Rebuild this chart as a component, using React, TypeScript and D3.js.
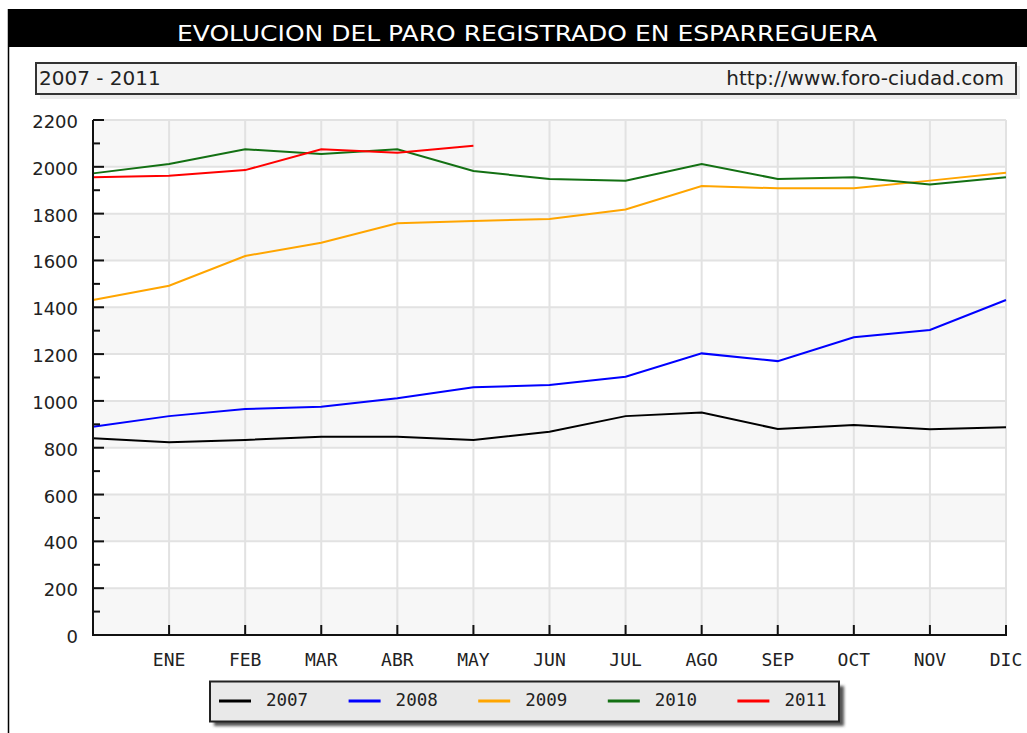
import React, { useEffect, useRef } from 'react';
import * as d3 from 'd3';

// datos (13 puntos por serie, el primero sin etiqueta)
const months = ['ENE', 'FEB', 'MAR', 'ABR', 'MAY', 'JUN', 'JUL', 'AGO', 'SEP', 'OCT', 'NOV', 'DIC'];
const years = ['2007', '2008', '2009', '2010', '2011'];
const colors = ['#000000', '#0000ff', '#ffa500', '#137013', '#ff0000'];

const paro2007 = [840, 823, 833, 847, 847, 833, 868, 935, 950, 880, 897, 879, 887];
const paro2008 = [890, 935, 965, 975, 1011, 1058, 1068, 1103, 1203, 1170, 1272, 1303, 1431];
const paro2009 = [1431, 1492, 1619, 1676, 1759, 1769, 1777, 1818, 1918, 1908, 1908, 1941, 1975];
const paro2010 = [1972, 2012, 2075, 2055, 2075, 1982, 1948, 1941, 2012, 1948, 1955, 1925, 1955];
const paro2011 = [1955, 1962, 1986, 2075, 2060, 2090];

const yTicks = [0, 200, 400, 600, 800, 1000, 1200, 1400, 1600, 1800, 2000, 2200];

const title = 'EVOLUCION DEL PARO REGISTRADO EN ESPARREGUERA';
const subtitleLeft = '2007 - 2011';
const subtitleRight = 'http://www.foro-ciudad.com';

const App = () => {
  const ref = useRef<SVGSVGElement>(null);

  const graph = () => {
    const svg = d3.select(ref.current);
    svg.selectAll('*').remove();

    const series = [paro2007, paro2008, paro2009, paro2010, paro2011];

    const x = d3.scaleLinear().domain([0, 12]).range([93, 1006]);
    const y = d3.scaleLinear().domain([0, 2200]).range([635, 120]);

    const defs = svg.append('defs');
    defs
      .append('filter')
      .attr('id', 'blur')
      .attr('x', '-10%')
      .attr('y', '-30%')
      .attr('width', '120%')
      .attr('height', '160%')
      .append('feGaussianBlur')
      .attr('stdDeviation', 1.5);

    // marco y cabecera
    svg.append('rect').attr('x', 8).attr('y', 9).attr('width', 1030).attr('height', 38).attr('fill', '#000');
    svg
      .append('line')
      .attr('x1', 8.5)
      .attr('x2', 8.5)
      .attr('y1', 9)
      .attr('y2', 733)
      .attr('stroke', '#000')
      .attr('stroke-width', 1.5);

    svg
      .append('text')
      .attr('x', 527)
      .attr('y', 40.5)
      .attr('text-anchor', 'middle')
      .attr('textLength', 700)
      .attr('lengthAdjust', 'spacingAndGlyphs')
      .attr('fill', '#fff')
      .style('font-family', 'DejaVu Sans')
      .style('font-size', '21.5px')
      .text(title);

    // caja del subtitulo
    svg.append('rect').attr('x', 40).attr('y', 66).attr('width', 980).attr('height', 33).attr('fill', '#ececec');
    svg
      .append('rect')
      .attr('x', 36)
      .attr('y', 63)
      .attr('width', 980)
      .attr('height', 31)
      .attr('fill', '#f3f3f3')
      .attr('stroke', '#333')
      .attr('stroke-width', 2);
    svg
      .append('text')
      .attr('x', 39)
      .attr('y', 85)
      .attr('fill', '#222')
      .style('font-family', 'DejaVu Sans')
      .style('font-size', '20px')
      .text(subtitleLeft);
    svg
      .append('text')
      .attr('x', 1004)
      .attr('y', 85)
      .attr('text-anchor', 'end')
      .attr('fill', '#222')
      .style('font-family', 'DejaVu Sans')
      .style('font-size', '20px')
      .text(subtitleRight);

    // bandas alternas
    svg
      .append('g')
      .selectAll('rect')
      .data(yTicks.slice(0, -1))
      .join('rect')
      .attr('x', x(0))
      .attr('width', x(12) - x(0))
      .attr('y', (d) => y(d + 200))
      .attr('height', (d) => y(d) - y(d + 200))
      .attr('fill', (d, i) => (i % 2 === 0 ? '#f7f7f7' : '#ffffff'));

    // rejilla
    const grid = svg.append('g').attr('stroke', '#e2e2e2').attr('stroke-width', 2);
    grid
      .selectAll('line.h')
      .data(yTicks)
      .join('line')
      .attr('class', 'h')
      .attr('x1', x(0))
      .attr('x2', x(12))
      .attr('y1', (d) => y(d))
      .attr('y2', (d) => y(d));
    grid
      .selectAll('line.v')
      .data(months)
      .join('line')
      .attr('class', 'v')
      .attr('x1', (d, i) => x(i + 1))
      .attr('x2', (d, i) => x(i + 1))
      .attr('y1', y(2200))
      .attr('y2', y(0));

    // lineas
    const line = d3
      .line<number>()
      .x((d, i) => x(i))
      .y((d) => y(d));

    svg
      .append('g')
      .selectAll('path')
      .data(series)
      .join('path')
      .attr('fill', 'none')
      .attr('stroke', (d, i) => colors[i])
      .attr('stroke-width', 2)
      .attr('d', (d) => line(d));

    // ejes
    const axis = svg.append('g').attr('stroke', '#111').attr('stroke-width', 2);
    axis.append('line').attr('x1', x(0)).attr('x2', x(0)).attr('y1', y(2200)).attr('y2', y(0) + 1);
    axis.append('line').attr('x1', x(0) - 1).attr('x2', x(12) + 1).attr('y1', y(0)).attr('y2', y(0));
    axis
      .selectAll('line.major')
      .data(yTicks)
      .join('line')
      .attr('class', 'major')
      .attr('x1', x(0))
      .attr('x2', x(0) + 11)
      .attr('y1', (d) => y(d))
      .attr('y2', (d) => y(d));
    axis
      .selectAll('line.minor')
      .data(yTicks.slice(0, -1))
      .join('line')
      .attr('class', 'minor')
      .attr('x1', x(0))
      .attr('x2', x(0) + 7)
      .attr('y1', (d) => y(d + 100))
      .attr('y2', (d) => y(d + 100));
    axis
      .selectAll('line.xt')
      .data(months)
      .join('line')
      .attr('class', 'xt')
      .attr('x1', (d, i) => x(i + 1))
      .attr('x2', (d, i) => x(i + 1))
      .attr('y1', y(0) - 10)
      .attr('y2', y(0));

    svg
      .append('g')
      .selectAll('text')
      .data(yTicks)
      .join('text')
      .attr('x', 78)
      .attr('y', (d) => y(d) + 8)
      .attr('text-anchor', 'end')
      .attr('fill', '#222')
      .style('font-family', 'DejaVu Sans')
      .style('font-size', '18px')
      .text((d) => d);

    svg
      .append('g')
      .selectAll('text')
      .data(months)
      .join('text')
      .attr('x', (d, i) => x(i + 1))
      .attr('y', 666)
      .attr('text-anchor', 'middle')
      .attr('fill', '#222')
      .style('font-family', 'DejaVu Sans Mono')
      .style('font-size', '18px')
      .text((d) => d);

    // leyenda
    svg
      .append('rect')
      .attr('x', 214)
      .attr('y', 686)
      .attr('width', 630)
      .attr('height', 40)
      .attr('fill', '#555')
      .attr('filter', 'url(#blur)');
    svg
      .append('rect')
      .attr('x', 210)
      .attr('y', 681.5)
      .attr('width', 629)
      .attr('height', 40)
      .attr('fill', '#e9e9e9')
      .attr('stroke', '#222')
      .attr('stroke-width', 2);

    const items = svg
      .append('g')
      .selectAll('g')
      .data(years)
      .join('g')
      .attr('transform', (d, i) => `translate(${219 + i * 129.6},0)`);
    items
      .append('line')
      .attr('x1', 0)
      .attr('x2', 32)
      .attr('y1', 701)
      .attr('y2', 701)
      .attr('stroke', (d, i) => colors[i])
      .attr('stroke-width', 3);
    items
      .append('text')
      .attr('x', 47)
      .attr('y', 706)
      .attr('fill', '#222')
      .style('font-family', 'DejaVu Sans Mono')
      .style('font-size', '17.5px')
      .text((d) => d);
  };

  // eslint-disable-next-line
  useEffect(() => graph(), []);

  return (
    <div style={{ position: 'absolute', left: 0, top: 0 }}>
      <svg ref={ref} width="1027" height="733" style={{ display: 'block', background: '#fff' }}></svg>
    </div>
  );
};

export default App;
